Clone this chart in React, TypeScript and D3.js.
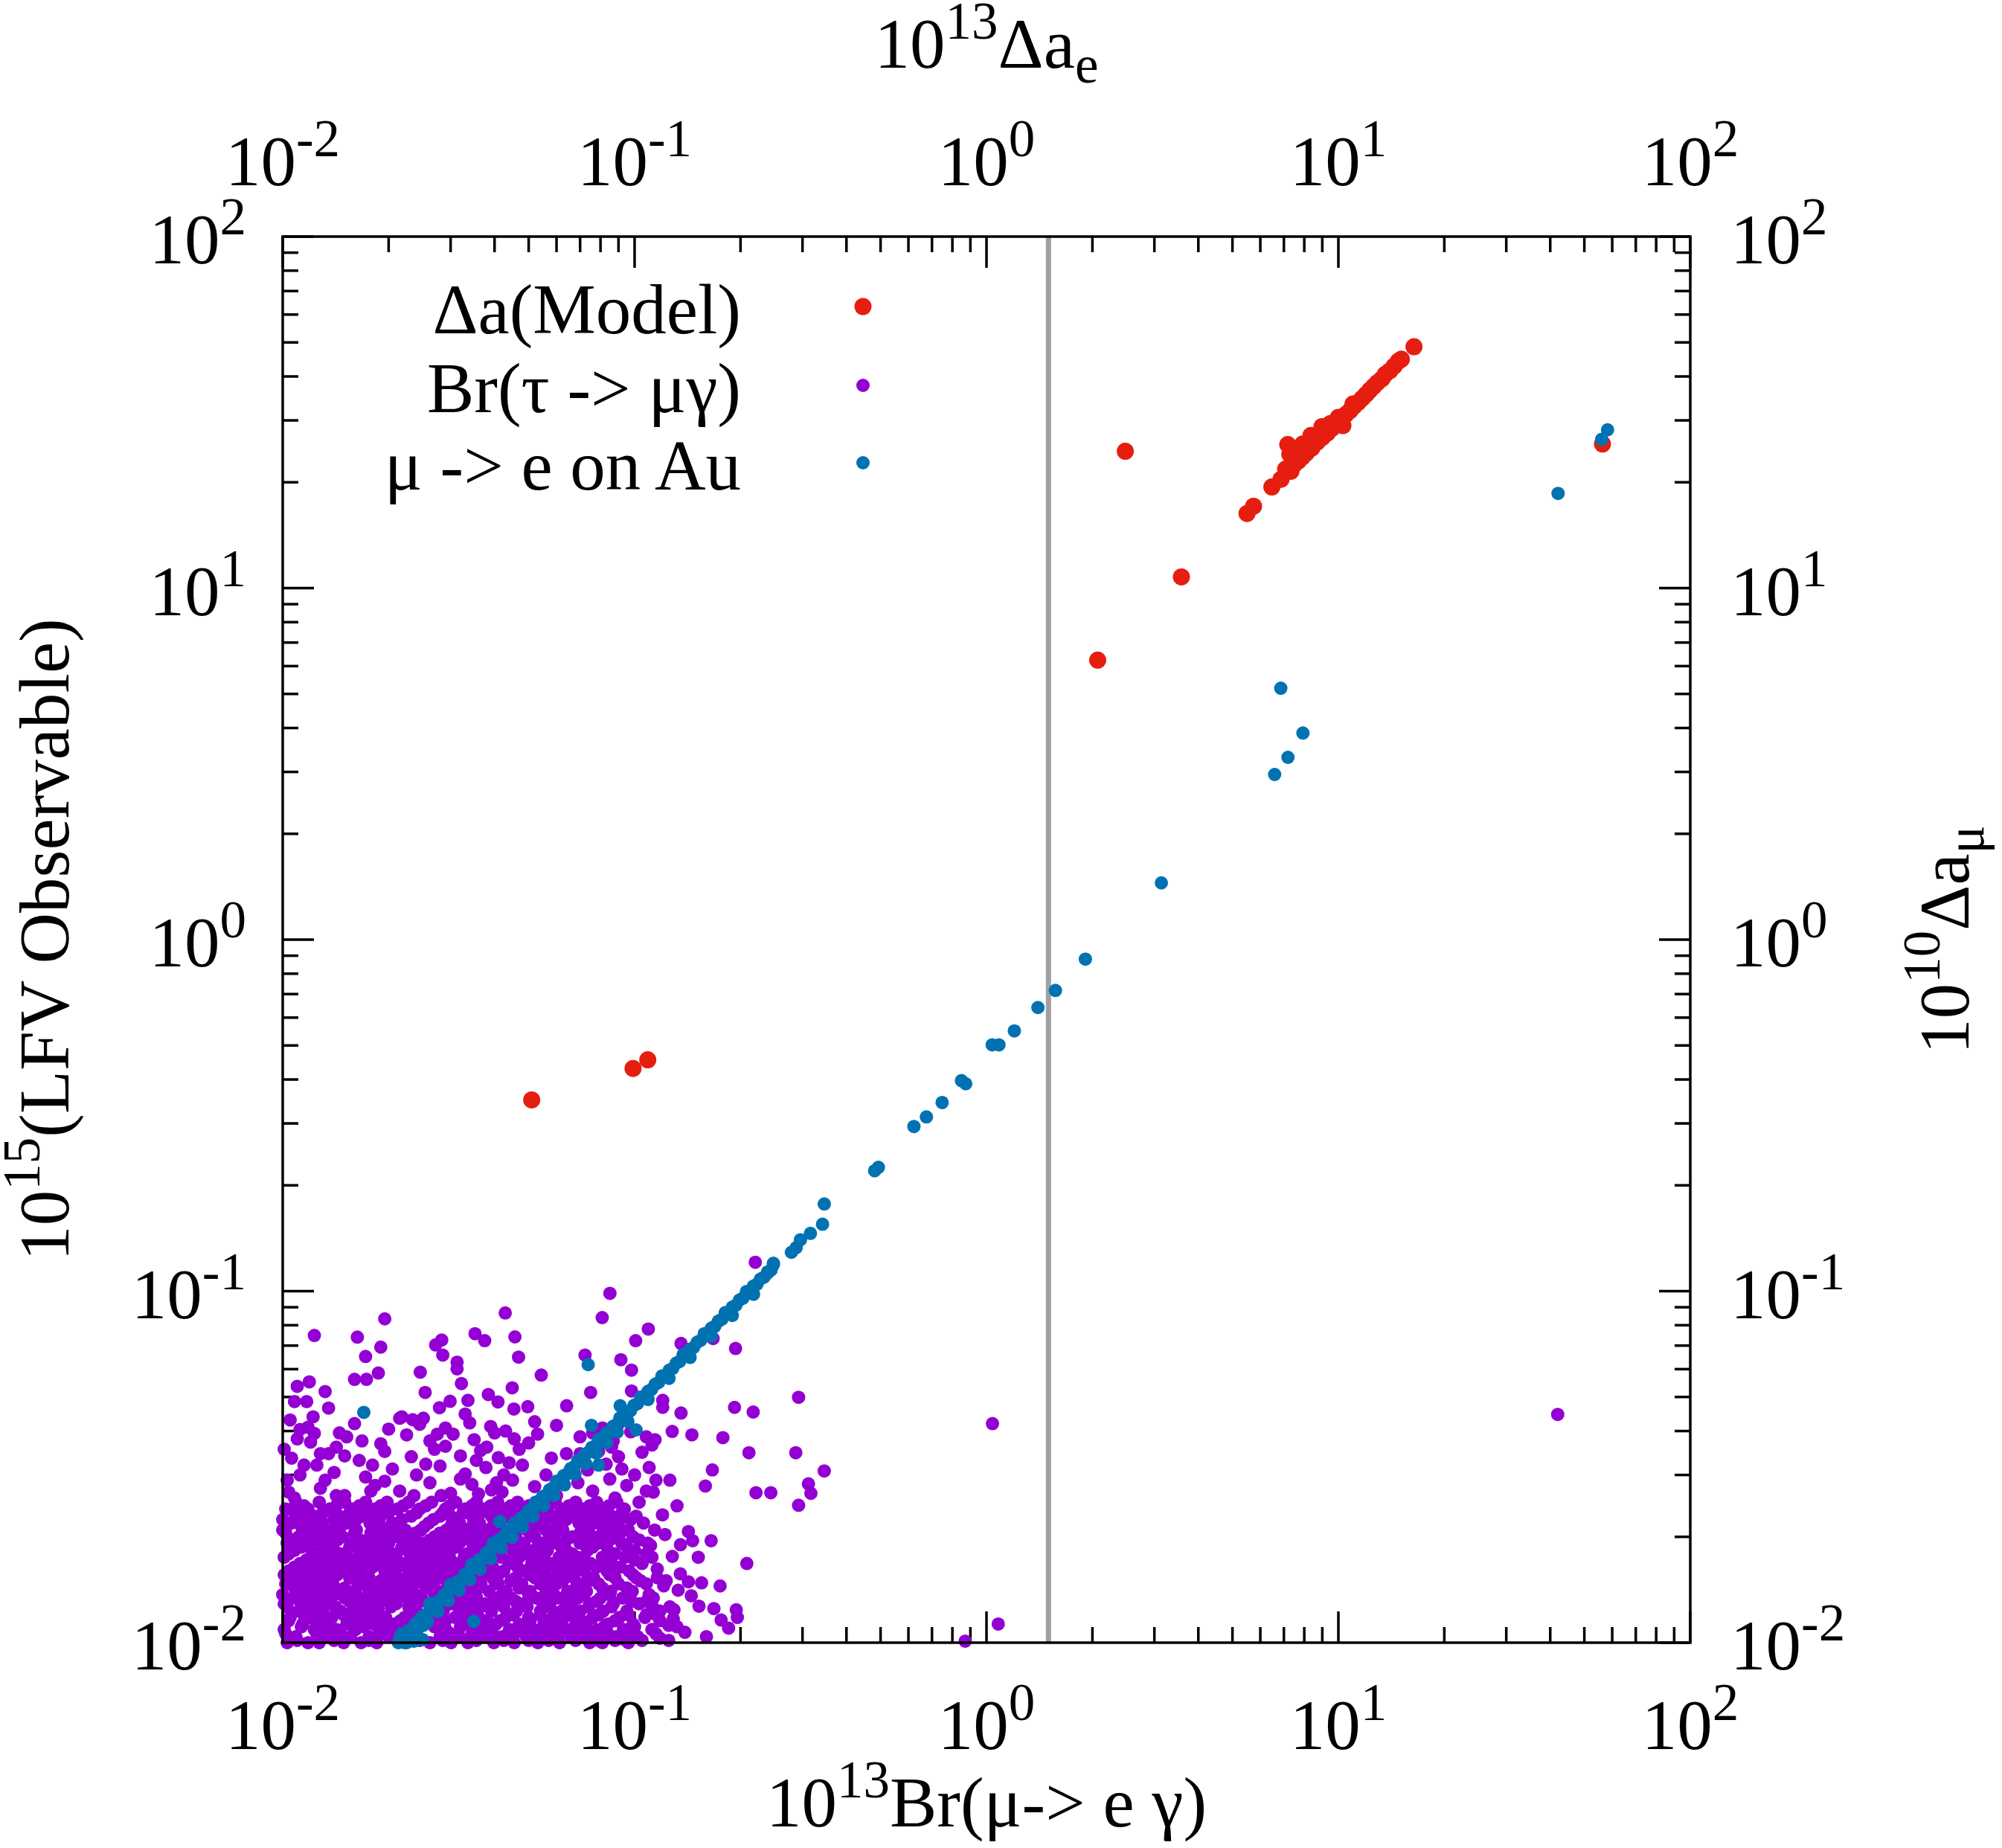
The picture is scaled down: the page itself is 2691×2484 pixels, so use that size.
import React from 'react';
import * as d3 from 'd3';

// Canvas and plot frame (pixels)
const W = 2691;
const H = 2484;
const frame = { left: 380, right: 2272, top: 318, bottom: 2208 };

const FONT = 'Liberation Serif, Times New Roman, serif';
const FS = 95;
const SUP = 71;
const RAISE = 39;

// Axis ranges and labels
const xDomain = [0.01, 100];
const yDomain = [0.01, 100];
const tickExponents = ['-2', '-1', '0', '1', '2'];

const legendLabels = ['Δa(Model)', 'Br(τ -> μγ)', 'μ -> e on Au'];
const seriesColors = ['#e51e10', '#9400d3', '#0072b2'];
const markerRadius = [11.5, 9, 9];
const verticalCut = 1.5;

// Δa(Model)
const redPoints: [number, number][] = [
  [0.051, 0.35], [0.099, 0.43], [0.109, 0.455],
  [2.07, 6.24], [3.58, 10.76], [2.48, 24.5], [56.3, 25.7],
  [5.5, 16.3], [5.74, 17.1], [6.47, 19.4], [6.87, 20.4], [7.08, 21.8],
  [7.18, 25.6], [7.28, 24.0], [7.33, 21.5], [7.5, 22.5], [7.7, 23.0],
  [7.92, 25.7], [7.9, 23.6], [8.1, 24.2], [8.36, 27.2], [8.4, 25.0],
  [8.7, 26.0], [8.98, 28.8], [9.0, 26.8], [9.3, 27.6], [9.5, 29.4],
  [9.6, 28.5], [9.9, 29.3], [10.0, 30.6], [10.3, 29.0], [10.2, 30.3],
  [10.5, 31.2], [10.8, 32.0], [11.0, 33.4], [11.1, 33.0], [11.4, 33.8],
  [11.7, 34.7], [12.0, 35.6], [12.3, 36.6], [12.6, 37.5], [12.9, 38.4],
  [13.3, 39.4], [13.6, 40.6], [14.0, 41.5], [14.4, 42.8], [14.8, 44.2],
  [15.1, 44.8], [16.4, 48.6],
];

// μ -> e on Au: sparse points and strays
const blueSparse: [number, number][] = [
  [58.2, 28.2], [56.0, 26.5], [42.1, 18.6], [6.86, 5.19], [7.93, 3.87],
  [7.19, 3.3], [6.59, 2.95], [3.14, 1.45], [1.91, 0.88], [1.57, 0.717],
  [1.4, 0.641], [1.2, 0.55], [1.085, 0.502], [1.038, 0.502], [0.873, 0.389],
  [0.849, 0.397], [0.748, 0.344], [0.675, 0.313], [0.622, 0.294], [0.493, 0.225],
  [0.481, 0.22], [0.346, 0.177], [0.342, 0.155], [0.316, 0.146], [0.296, 0.14],
  [0.288, 0.133], [0.279, 0.129], [0.248, 0.12],
  [0.017, 0.0452], [0.0738, 0.0618], [0.091, 0.0472], [0.101, 0.0403],
  [0.0754, 0.0415], [0.079, 0.032], [0.0414, 0.0221], [0.0349, 0.0115],
  [0.0215, 0.0102], [0.0222, 0.01], [0.0236, 0.0101], [0.025, 0.0102],
];

// μ -> e on Au: the dense diagonal band
const blueBand: [number, number][] = [
  [0.0213, 0.01], [0.0223, 0.0105], [0.0234, 0.011], [0.0245, 0.0116],
  [0.0256, 0.012], [0.0268, 0.0126], [0.0281, 0.0132], [0.0294, 0.0139],
  [0.0308, 0.0145], [0.0323, 0.0151], [0.0338, 0.0159], [0.0354, 0.0166],
  [0.037, 0.0174], [0.0388, 0.0183], [0.0406, 0.019], [0.0425, 0.02],
  [0.0445, 0.0209], [0.0466, 0.0219], [0.0488, 0.023], [0.0511, 0.024],
  [0.0535, 0.0252], [0.056, 0.0263], [0.0587, 0.0276], [0.0614, 0.0288],
  [0.0643, 0.0302], [0.0674, 0.0317], [0.0705, 0.0331], [0.0739, 0.0348],
  [0.0773, 0.0363], [0.081, 0.0381], [0.0848, 0.0398], [0.0888, 0.0417],
  [0.093, 0.0437], [0.0973, 0.0457], [0.1019, 0.0479], [0.1067, 0.0501],
  [0.1117, 0.0525], [0.117, 0.055], [0.1225, 0.0576], [0.1283, 0.0603],
  [0.1343, 0.0631], [0.1406, 0.0661], [0.1472, 0.0692], [0.1542, 0.0725],
  [0.1614, 0.0759], [0.169, 0.0794], [0.177, 0.0832], [0.1853, 0.0871],
  [0.194, 0.0912], [0.2032, 0.0955], [0.2127, 0.1], [0.2228, 0.1047],
  [0.2333, 0.1096], [0.2442, 0.1148],
  [0.0218, 0.0106], [0.0229, 0.0102], [0.024, 0.0108], [0.0251, 0.0112],
  [0.0262, 0.0129], [0.0275, 0.0124], [0.03, 0.0146], [0.0316, 0.0142],
  [0.0345, 0.0167], [0.0362, 0.0163], [0.0397, 0.0192], [0.0415, 0.0187],
  [0.0455, 0.0219], [0.0476, 0.0214], [0.0523, 0.0251], [0.0548, 0.0247],
  [0.06, 0.0288], [0.0628, 0.0283], [0.069, 0.033], [0.0722, 0.0326],
  [0.079, 0.0379], [0.0828, 0.0374], [0.0908, 0.0436], [0.0951, 0.0429],
  [0.1043, 0.05], [0.1092, 0.0492], [0.1196, 0.0574], [0.1253, 0.0565],
  [0.1374, 0.066], [0.1438, 0.0648], [0.1578, 0.0757], [0.1652, 0.0745],
  [0.181, 0.0869], [0.1895, 0.0853], [0.208, 0.0998], [0.2178, 0.098],
  [0.2385, 0.1125], [0.248, 0.119],
  [0.0228, 0.01083], [0.0239, 0.01135], [0.025, 0.01188], [0.0262, 0.01245],
  [0.0274, 0.01302], [0.0287, 0.01363], [0.0301, 0.0143], [0.0315, 0.01496],
  [0.033, 0.01568], [0.0346, 0.01644], [0.0362, 0.0172], [0.0379, 0.018],
  [0.0397, 0.01886], [0.0415, 0.01971], [0.0435, 0.02066], [0.0455, 0.02161],
  [0.0477, 0.02266], [0.0499, 0.0237], [0.0523, 0.02484], [0.0547, 0.02598],
  [0.0573, 0.02722], [0.06, 0.0285], [0.0629, 0.02988], [0.0658, 0.03126],
  [0.0689, 0.03273], [0.0722, 0.0343], [0.0756, 0.03591], [0.0791, 0.03757],
  [0.0829, 0.03938], [0.0868, 0.04123], [0.0909, 0.04318], [0.0951, 0.04517],
  [0.0996, 0.04731], [0.1043, 0.04954], [0.1092, 0.05187], [0.1143, 0.05429],
  [0.1197, 0.05686], [0.1254, 0.05957], [0.1313, 0.06237], [0.1374, 0.06527],
  [0.1439, 0.06835], [0.1507, 0.07158], [0.1578, 0.07496], [0.1652, 0.07847],
  [0.173, 0.08218], [0.1811, 0.08602], [0.1896, 0.09006], [0.1985, 0.09429],
  [0.2079, 0.09875], [0.2177, 0.1034], [0.228, 0.1083], [0.2388, 0.1134],
  [0.0225, 0.01], [0.024, 0.01068], [0.0258, 0.01148], [0.0276, 0.01228],
  [0.0296, 0.01317], [0.0317, 0.01411], [0.034, 0.01513], [0.0364, 0.0162],
  [0.039, 0.01736], [0.0418, 0.0186], [0.0448, 0.01994], [0.048, 0.02136],
  [0.0514, 0.02287], [0.0551, 0.02452], [0.059, 0.02626], [0.0632, 0.02812],
  [0.0677, 0.03013], [0.0726, 0.03231], [0.0778, 0.03462], [0.0833, 0.03707],
  [0.0893, 0.03974], [0.0957, 0.04259],
];

// Br(τ -> μγ): sparse points around the cloud
const purpleSparse: [number, number][] = [
  [0.0195, 0.0834], [0.0123, 0.0748], [0.0163, 0.074], [0.019, 0.0693],
  [0.0172, 0.0652], [0.0187, 0.0585], [0.016, 0.0561], [0.0173, 0.0561],
  [0.0132, 0.0518], [0.011, 0.0536], [0.0119, 0.0552], [0.0108, 0.0485],
  [0.0117, 0.0485], [0.0112, 0.0404], [0.0122, 0.0439], [0.0123, 0.0394],
  [0.0429, 0.0867], [0.0851, 0.0986], [0.0809, 0.0841], [0.0352, 0.0757],
  [0.0375, 0.0723], [0.0457, 0.0741], [0.0272, 0.0703], [0.0283, 0.0726],
  [0.0285, 0.0658], [0.0313, 0.0628], [0.0313, 0.0601], [0.0468, 0.0649],
  [0.0246, 0.0588], [0.0543, 0.0577], [0.0322, 0.0546], [0.0254, 0.0515],
  [0.0384, 0.0508], [0.0409, 0.0484], [0.0449, 0.0531], [0.0336, 0.0489],
  [0.0299, 0.0486], [0.0279, 0.0466], [0.033, 0.0447], [0.0454, 0.0462],
  [0.0497, 0.0469], [0.0218, 0.0439], [0.0234, 0.0431], [0.0251, 0.0435],
  [0.0723, 0.0658], [0.075, 0.0515], [0.0914, 0.0638], [0.098, 0.0596],
  [0.1007, 0.0723], [0.1094, 0.078], [0.1355, 0.071], [0.1671, 0.0733],
  [0.1936, 0.0687], [0.2203, 0.1208], [0.2924, 0.0499], [0.1923, 0.0467],
  [0.2173, 0.0453], [0.1355, 0.045], [0.098, 0.052], [0.0641, 0.0472],
  [0.1202, 0.0489], [0.1202, 0.0467], [0.1782, 0.0383], [0.1279, 0.0399],
  [0.1455, 0.039], [0.1143, 0.0378], [0.2113, 0.0347], [0.2871, 0.0347],
  [0.3459, 0.0308], [0.1663, 0.031], [0.1589, 0.0279], [0.2213, 0.0267],
  [0.2438, 0.0267], [0.3119, 0.0283], [0.317, 0.0266], [0.2924, 0.0246],
  [0.1422, 0.0207], [0.1462, 0.0195], [0.1517, 0.0175], [0.2084, 0.0168],
  [0.1349, 0.0157], [0.1422, 0.0149], [0.1449, 0.0136], [0.1524, 0.0127],
  [0.1945, 0.0124], [0.1959, 0.0118], [0.1762, 0.0116], [0.139, 0.0107],
  [0.1294, 0.0124], [0.1288, 0.0117], [0.1127, 0.0126], [0.1153, 0.012],
  [0.0935, 0.0102],
  [0.118, 0.0103], [0.125, 0.0112], [0.108, 0.0131], [0.121, 0.0145],
  [0.133, 0.0141], [0.116, 0.0162], [0.128, 0.0176], [0.111, 0.0189],
  [0.122, 0.0203], [0.135, 0.019], [0.16, 0.0104], [0.168, 0.0125],
  [0.155, 0.0148], [0.185, 0.011], [0.12, 0.0231], [0.132, 0.0245],
  [0.113, 0.0268], [0.126, 0.029], [0.175, 0.0145], [0.165, 0.0195],
  [0.0103, 0.029], [0.0115, 0.032], [0.0101, 0.0355], [0.0128, 0.0345],
  [0.011, 0.038], [0.0145, 0.0395], [0.0105, 0.043], [0.0135, 0.0465],
  [0.015, 0.034], [0.0168, 0.0375], [0.018, 0.032],
  [1.04, 0.042], [42, 0.0446], [1.08, 0.0113], [0.87, 0.0101],
];

// Br(τ -> μγ): middle band of the cloud
const purpleMid: [number, number][] = [
  [0.0104, 0.0268], [0.0128, 0.0275], [0.015, 0.0262], [0.0183, 0.028],
  [0.0215, 0.027], [0.0262, 0.0285], [0.03, 0.0266], [0.0345, 0.0282],
  [0.0392, 0.0272], [0.045, 0.029], [0.052, 0.0278], [0.069, 0.0285],
  [0.076, 0.027], [0.085, 0.0292], [0.095, 0.028],
  [0.0112, 0.03], [0.014, 0.0305], [0.0172, 0.0296], [0.0205, 0.0312],
  [0.024, 0.03], [0.028, 0.0318], [0.033, 0.0302], [0.0378, 0.0315],
  [0.0425, 0.03], [0.048, 0.032], [0.0735, 0.031], [0.083, 0.0322],
  [0.1, 0.03], [0.11, 0.0315],
  [0.0106, 0.0335], [0.0135, 0.0345], [0.0165, 0.033], [0.0195, 0.035],
  [0.0232, 0.0338], [0.027, 0.0355], [0.032, 0.034], [0.0365, 0.0352],
  [0.041, 0.0336], [0.047, 0.0355], [0.064, 0.0345], [0.079, 0.035],
  [0.09, 0.0338], [0.105, 0.0348],
  [0.012, 0.0372], [0.0152, 0.0385], [0.019, 0.0368], [0.0225, 0.039],
  [0.0262, 0.0375], [0.0305, 0.0392], [0.035, 0.0378], [0.04, 0.0395],
  [0.0455, 0.038], [0.053, 0.0392], [0.07, 0.0385], [0.087, 0.0375],
  [0.0975, 0.0398],
  [0.0118, 0.041], [0.016, 0.042], [0.02, 0.0405], [0.0245, 0.0418],
  [0.029, 0.0408], [0.034, 0.0422], [0.039, 0.0412], [0.06, 0.0415],
  [0.081, 0.0408],
  [0.0108, 0.0258], [0.0142, 0.0262], [0.0178, 0.027], [0.0236, 0.0262],
  [0.0282, 0.0262], [0.036, 0.0265], [0.042, 0.0268], [0.06, 0.0262],
  [0.088, 0.0258], [0.108, 0.027], [0.115, 0.029],
  [0.0132, 0.029], [0.0195, 0.0288], [0.032, 0.0292], [0.0405, 0.0285],
  [0.056, 0.03], [0.066, 0.031], [0.092, 0.0312],
  [0.0125, 0.032], [0.0255, 0.0322], [0.0355, 0.033], [0.044, 0.0325],
  [0.058, 0.0335], [0.07, 0.0345], [0.086, 0.036], [0.112, 0.0365],
  [0.0142, 0.036], [0.029, 0.0362], [0.038, 0.036], [0.05, 0.037],
  [0.076, 0.0395], [0.108, 0.0385],
  [0.0215, 0.0435], [0.0275, 0.0392], [0.043, 0.04], [0.052, 0.0425],
  [0.09, 0.042],
];

// Br(τ -> μγ): dense lower cloud, one row per y level
const purpleRows: [number, number[]][] = [
  [0.01, [0.0103, 0.0118, 0.0127, 0.0149, 0.0167, 0.0185, 0.0262, 0.0301, 0.0336, 0.0398, 0.0455, 0.0531, 0.0612, 0.0745, 0.081, 0.096]],
  [0.01015, [0.011, 0.014, 0.0176, 0.0214, 0.0245, 0.0285, 0.0355, 0.0425, 0.05, 0.057, 0.068, 0.079, 0.088, 0.105, 0.125]],
  [0.0104, [0.0109, 0.0134, 0.0156, 0.0176, 0.02, 0.028, 0.0318, 0.037, 0.042, 0.0492, 0.057, 0.066, 0.07, 0.0885, 0.102]],
  [0.0106, [0.0102, 0.0125, 0.0146, 0.0188, 0.0232, 0.03, 0.0345, 0.0395, 0.0455, 0.053, 0.061, 0.0735, 0.084, 0.095, 0.115]],
  [0.0109, [0.0101, 0.0123, 0.0142, 0.0161, 0.0192, 0.0215, 0.0291, 0.0352, 0.0385, 0.0441, 0.0515, 0.0598, 0.064, 0.078, 0.093, 0.112]],
  [0.0111, [0.0113, 0.0133, 0.017, 0.0203, 0.0242, 0.027, 0.032, 0.0368, 0.048, 0.056, 0.069, 0.082, 0.1, 0.132]],
  [0.0113, [0.0114, 0.013, 0.0152, 0.0181, 0.0206, 0.0231, 0.027, 0.0327, 0.0404, 0.047, 0.0552, 0.068, 0.0725, 0.084, 0.099]],
  [0.01155, [0.0104, 0.0124, 0.016, 0.0189, 0.0216, 0.0258, 0.029, 0.038, 0.0415, 0.0505, 0.061, 0.0705, 0.088, 0.118]],
  [0.0118, [0.0105, 0.0121, 0.0138, 0.017, 0.0196, 0.0222, 0.0252, 0.0309, 0.0361, 0.043, 0.05, 0.0585, 0.063, 0.076, 0.0905, 0.107]],
  [0.012, [0.0115, 0.0131, 0.0149, 0.0178, 0.0235, 0.0272, 0.0328, 0.045, 0.054, 0.066, 0.079, 0.096, 0.108]],
  [0.0123, [0.0111, 0.0127, 0.0146, 0.0158, 0.0187, 0.024, 0.0286, 0.0345, 0.0392, 0.0462, 0.054, 0.062, 0.07, 0.0815, 0.095, 0.118]],
  [0.01265, [0.0103, 0.012, 0.0141, 0.0168, 0.0203, 0.0228, 0.0262, 0.0315, 0.0365, 0.0425, 0.0495, 0.0575, 0.074, 0.086, 0.126]],
  [0.0129, [0.0101, 0.0119, 0.0135, 0.0165, 0.0178, 0.021, 0.0262, 0.03, 0.033, 0.0375, 0.0418, 0.0485, 0.0575, 0.066, 0.0745, 0.087, 0.103]],
  [0.0131, [0.0112, 0.013, 0.0155, 0.019, 0.0245, 0.028, 0.035, 0.0405, 0.046, 0.0545, 0.064, 0.078, 0.098]],
  [0.0134, [0.0107, 0.0125, 0.015, 0.0173, 0.0199, 0.0226, 0.0248, 0.0315, 0.0356, 0.04, 0.0445, 0.0525, 0.0608, 0.069, 0.08, 0.0925, 0.113]],
  [0.0137, [0.01, 0.0117, 0.014, 0.0162, 0.0183, 0.021, 0.0238, 0.027, 0.0332, 0.042, 0.05, 0.059, 0.0715, 0.085, 0.11]],
  [0.014, [0.0113, 0.0132, 0.0143, 0.016, 0.0189, 0.0217, 0.0278, 0.0293, 0.034, 0.0386, 0.0432, 0.0505, 0.056, 0.0645, 0.073, 0.0855, 0.0985]],
  [0.0143, [0.0108, 0.0126, 0.015, 0.0175, 0.0198, 0.0225, 0.0255, 0.0305, 0.036, 0.047, 0.058, 0.068, 0.081, 0.095]],
  [0.0147, [0.0102, 0.012, 0.0139, 0.0168, 0.0184, 0.0204, 0.0236, 0.0268, 0.0322, 0.0366, 0.041, 0.0478, 0.054, 0.06, 0.071, 0.079, 0.09, 0.108]],
  [0.015, [0.0115, 0.0133, 0.0162, 0.019, 0.022, 0.0258, 0.0292, 0.0338, 0.04, 0.0445, 0.056, 0.0625, 0.074, 0.104, 0.123]],
  [0.0153, [0.0109, 0.0128, 0.0155, 0.0176, 0.0212, 0.0245, 0.0283, 0.0306, 0.0348, 0.0395, 0.046, 0.052, 0.059, 0.0672, 0.0765, 0.088, 0.101, 0.116]],
  [0.0156, [0.0101, 0.0122, 0.0143, 0.0168, 0.0204, 0.0236, 0.027, 0.0316, 0.0368, 0.041, 0.0505, 0.066, 0.085, 0.099]],
  [0.016, [0.0104, 0.0116, 0.0136, 0.0147, 0.0163, 0.0195, 0.0228, 0.026, 0.0297, 0.0335, 0.0378, 0.0425, 0.049, 0.0555, 0.0628, 0.072, 0.0835, 0.0965]],
  [0.0164, [0.0108, 0.0129, 0.0154, 0.018, 0.0212, 0.0242, 0.0276, 0.0305, 0.0348, 0.0395, 0.0465, 0.0535, 0.06, 0.069, 0.078, 0.091]],
  [0.0168, [0.0112, 0.0124, 0.0144, 0.0171, 0.0187, 0.0203, 0.0219, 0.0252, 0.0288, 0.0318, 0.036, 0.044, 0.051, 0.0575, 0.065, 0.075, 0.086, 0.105]],
  [0.0172, [0.0117, 0.0137, 0.0162, 0.0195, 0.023, 0.0265, 0.03, 0.034, 0.0385, 0.045, 0.0525, 0.062, 0.072, 0.083, 0.1]],
  [0.0175, [0.0101, 0.0131, 0.0153, 0.018, 0.021, 0.024, 0.0275, 0.0328, 0.0372, 0.0418, 0.047, 0.0535, 0.061, 0.069, 0.081, 0.094, 0.112]],
  [0.0179, [0.0104, 0.0126, 0.0146, 0.0172, 0.0205, 0.025, 0.029, 0.0335, 0.041, 0.0495, 0.0555, 0.0665, 0.088, 0.108]],
  [0.0183, [0.0108, 0.0121, 0.014, 0.0165, 0.0192, 0.0226, 0.0262, 0.03, 0.0345, 0.0398, 0.045, 0.05, 0.0565, 0.064, 0.0735, 0.084, 0.1]],
  [0.0187, [0.0113, 0.0131, 0.0155, 0.0184, 0.0218, 0.0244, 0.027, 0.0312, 0.0355, 0.042, 0.047, 0.053, 0.062, 0.076, 0.095]],
  [0.0192, [0.0103, 0.0118, 0.0134, 0.0158, 0.0174, 0.02, 0.0235, 0.025, 0.0285, 0.0318, 0.0366, 0.043, 0.0485, 0.0548, 0.06, 0.07, 0.079, 0.092, 0.109]],
  [0.0196, [0.0107, 0.0124, 0.0143, 0.0166, 0.0192, 0.0228, 0.0262, 0.0298, 0.034, 0.039, 0.045, 0.057, 0.064, 0.074, 0.085, 0.103]],
  [0.02, [0.0111, 0.0126, 0.0148, 0.0185, 0.0213, 0.027, 0.0308, 0.0352, 0.0405, 0.046, 0.052, 0.059, 0.0665, 0.076, 0.087, 0.099]],
  [0.0205, [0.0102, 0.0118, 0.0135, 0.016, 0.0178, 0.0205, 0.0238, 0.028, 0.0322, 0.0372, 0.044, 0.0505, 0.058, 0.07, 0.081, 0.091]],
  [0.0209, [0.01, 0.0119, 0.0139, 0.0162, 0.0196, 0.0223, 0.0247, 0.0292, 0.0335, 0.038, 0.0425, 0.0495, 0.056, 0.0625, 0.072, 0.0825, 0.096, 0.114]],
  [0.0214, [0.0113, 0.0127, 0.0146, 0.019, 0.0215, 0.0253, 0.03, 0.0345, 0.0395, 0.0455, 0.0525, 0.06, 0.0745, 0.088]],
  [0.0219, [0.0106, 0.013, 0.0152, 0.0177, 0.0205, 0.026, 0.0318, 0.0362, 0.041, 0.047, 0.054, 0.061, 0.0695, 0.079, 0.09, 0.106]],
  [0.0224, [0.01, 0.0121, 0.014, 0.0162, 0.0184, 0.0218, 0.0268, 0.0308, 0.0352, 0.042, 0.049, 0.056, 0.064, 0.072, 0.083, 0.0975]],
  [0.0229, [0.0113, 0.0123, 0.0145, 0.0168, 0.019, 0.0232, 0.028, 0.03, 0.0345, 0.0392, 0.0445, 0.051, 0.058, 0.0655, 0.075, 0.086, 0.101]],
  [0.0234, [0.0108, 0.013, 0.0155, 0.0176, 0.02, 0.024, 0.0285, 0.0325, 0.0365, 0.041, 0.047, 0.0535, 0.0615, 0.069, 0.08, 0.092]],
  [0.024, [0.0102, 0.0118, 0.0136, 0.0158, 0.0183, 0.0212, 0.0245, 0.029, 0.033, 0.0375, 0.043, 0.0488, 0.055, 0.062, 0.0715, 0.082, 0.0935]],
  [0.0245, [0.0115, 0.0142, 0.0165, 0.019, 0.022, 0.0255, 0.0298, 0.0345, 0.039, 0.0445, 0.05, 0.057, 0.065, 0.0745, 0.0845]],
  [0.0251, [0.0109, 0.0127, 0.015, 0.0172, 0.0198, 0.0228, 0.0265, 0.031, 0.0355, 0.0408, 0.0465, 0.0525, 0.0595, 0.068, 0.078, 0.089, 0.103]],
];

const purplePoints: [number, number][] = [
  ...purpleRows.flatMap(([y, xs]) => xs.map((x) => [x, y] as [number, number])),
  ...purpleMid,
  ...purpleSparse,
];
const bluePoints: [number, number][] = [...blueSparse, ...blueBand];

const x = d3.scaleLog().domain(xDomain).range([frame.left, frame.right]);
const y = d3.scaleLog().domain(yDomain).range([frame.bottom, frame.top]);

const xTicks = x.ticks();
const yTicks = y.ticks();
const isMajor = (v: number) => Math.abs(Math.log10(v) - Math.round(Math.log10(v))) < 1e-9;
const MAJOR = 42;
const MINOR = 21;

const Pow = ({ exp }: { exp: string }) => (
  <>
    <tspan>10</tspan>
    <tspan dy={-RAISE} fontSize={SUP}>{exp}</tspan>
  </>
);

const App = () => {
  const series = [redPoints, purplePoints, bluePoints];
  const legendY = [412, 518, 622];
  const midX = (frame.left + frame.right) / 2;
  const midY = (frame.top + frame.bottom) / 2;

  return (
    <svg
      width={W}
      height={H}
      viewBox={`0 0 ${W} ${H}`}
      style={{ position: 'absolute', left: 0, top: 0, background: '#fff' }}
      fontFamily={FONT}
      fontSize={FS}
    >
      <rect width={W} height={H} fill='#fff' />

      {/* vertical reference line */}
      <line
        x1={x(verticalCut)}
        x2={x(verticalCut)}
        y1={frame.top}
        y2={frame.bottom}
        stroke='#a0a0a0'
        strokeWidth={7}
      />

      {/* ticks on all four sides */}
      <g stroke='#000' strokeWidth={3.5}>
        {xTicks.map((t, i) => {
          const len = isMajor(t) ? MAJOR : MINOR;
          return (
            <g key={`xt${i}`}>
              <line x1={x(t)} x2={x(t)} y1={frame.bottom} y2={frame.bottom - len} />
              <line x1={x(t)} x2={x(t)} y1={frame.top} y2={frame.top + len} />
            </g>
          );
        })}
        {yTicks.map((t, i) => {
          const len = isMajor(t) ? MAJOR : MINOR;
          return (
            <g key={`yt${i}`}>
              <line x1={frame.left} x2={frame.left + len} y1={y(t)} y2={y(t)} />
              <line x1={frame.right} x2={frame.right - len} y1={y(t)} y2={y(t)} />
            </g>
          );
        })}
      </g>

      {/* data */}
      {series.map((pts, s) => (
        <g key={`s${s}`} fill={seriesColors[s]}>
          {pts.map(([px, py], i) => (
            <circle key={i} cx={x(px)} cy={y(py)} r={markerRadius[s]} />
          ))}
        </g>
      ))}

      <rect
        x={frame.left}
        y={frame.top}
        width={frame.right - frame.left}
        height={frame.bottom - frame.top}
        fill='none'
        stroke='#000'
        strokeWidth={3.5}
      />

      {/* tick labels */}
      {tickExponents.map((e) => {
        const v = Math.pow(10, +e);
        return (
          <g key={`lab${e}`}>
            <text x={x(v)} y={2351} textAnchor='middle'><Pow exp={e} /></text>
            <text x={x(v)} y={249} textAnchor='middle'><Pow exp={e} /></text>
            <text x={331} y={y(v) + 36} textAnchor='end'><Pow exp={e} /></text>
            <text x={2326} y={y(v) + 36} textAnchor='start'><Pow exp={e} /></text>
          </g>
        );
      })}

      {/* axis titles */}
      <text x={midX} y={91} textAnchor='middle'>
        <tspan>10</tspan>
        <tspan dy={-RAISE} fontSize={SUP}>13</tspan>
        <tspan dy={RAISE}>Δa</tspan>
        <tspan dy={20} fontSize={SUP}>e</tspan>
      </text>
      <text x={midX} y={2455} textAnchor='middle'>
        <tspan>10</tspan>
        <tspan dy={-RAISE} fontSize={SUP}>13</tspan>
        <tspan dy={RAISE}>Br(μ-&gt; e γ)</tspan>
      </text>
      <text transform={`translate(92, ${midY}) rotate(-90)`} textAnchor='middle'>
        <tspan>10</tspan>
        <tspan dy={-RAISE} fontSize={SUP}>15</tspan>
        <tspan dy={RAISE}>(LFV Observable)</tspan>
      </text>
      <text transform={`translate(2646, ${midY}) rotate(-90)`} textAnchor='middle'>
        <tspan>10</tspan>
        <tspan dy={-RAISE} fontSize={SUP}>10</tspan>
        <tspan dy={RAISE}>Δa</tspan>
        <tspan dy={20} fontSize={SUP}>μ</tspan>
      </text>

      {/* legend */}
      {legendLabels.map((lab, i) => (
        <g key={`leg${i}`}>
          <text x={996} y={legendY[i] + 36} textAnchor='end'>{lab}</text>
          <circle cx={1160} cy={legendY[i]} r={markerRadius[i]} fill={seriesColors[i]} />
        </g>
      ))}
    </svg>
  );
};

export default App;
